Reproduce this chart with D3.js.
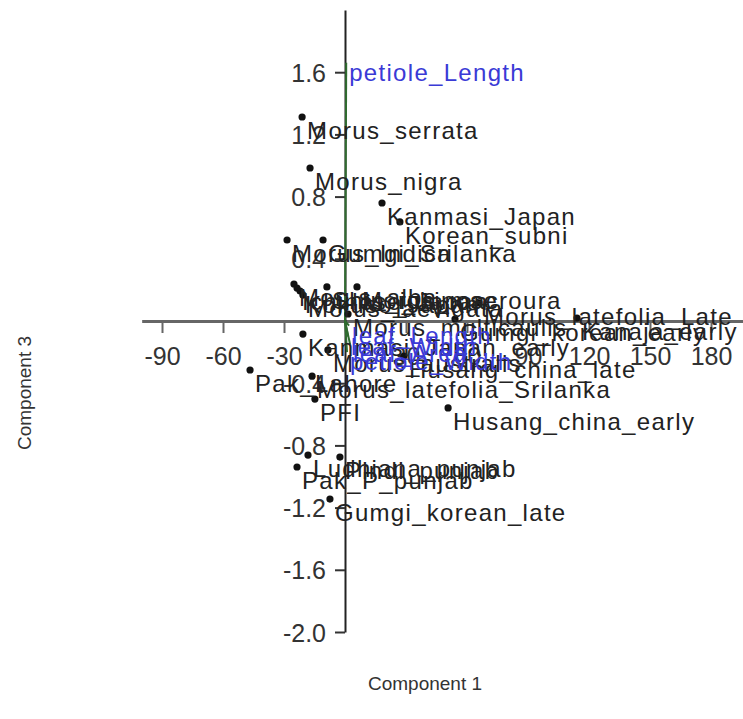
<!DOCTYPE html>
<html>
<head>
<meta charset="utf-8">
<script src="https://cdn.jsdelivr.net/npm/d3@7"></script>
<style>
  html, body { margin: 0; padding: 0; background: #fff; }
  svg { display: block; }
</style>
</head>
<body>
<svg id="chart" width="743" height="719"></svg>
<script>
// ---- Data ----
const sampleNames = [
  "Morus_serrata", "Morus_nigra", "Kanmasi_Japan", "Korean_subni",
  "Morus_Indica", "Gumgi_Srilanka", "Morus_alba", "Ichinose_Japan",
  "Kokuso_Japan", "Morus_laevigata", "Shin_ichinose", "Morus_macroura",
  "Morus_latefolia_Late", "Gumgi_korean_early", "Kanaja_early", "Morus_multicaulis",
  "Kanmasi_Japan_early", "Morus_australis", "Husang_china_late", "Morus_latefolia_Srilanka",
  "Pak_Lahore", "PFI", "Husang_china_early", "Ludhiana_punjab",
  "Pak_P_punjab", "Pindi_punjab", "Gumgi_korean_late"
];
const component1 = [
  -21.1, -17.2, 18.2, 27.0,
  -28.5, -10.8, -25.1, -23.6,
  -22.1, -20.7, -8.9, 5.9,
  65.9, 54.1, 114.1, 1.5,
  -20.7, -8.4, 29.0, -16.2,
  -46.7, -14.8, 50.7, -18.2,
  -23.6, -2.5, -7.4
];
const component3 = [
  1.312, 0.984, 0.759, 0.637,
  0.521, 0.521, 0.238, 0.212,
  0.193, 0.167, 0.219, 0.219,
  0.116, 0.013, 0.019, 0.045,
  -0.084, -0.186, -0.225, -0.355,
  -0.315, -0.502, -0.559, -0.862,
  -0.939, -0.875, -1.145
];

const variableNames = ["petiole_Length", "leaf_Length", "leaf_Width", "leaf_Area", "petiole_Width"];
const loading1 = [0.6, 2.0, 1.5, 2.5, 1.0];
const loading3 = [1.66, -0.03, -0.10, -0.15, -0.20];

const xTicks = [-90, -60, -30, 30, 60, 90, 120, 150, 180];
const yTicks = [-2.0, -1.6, -1.2, -0.8, -0.4, 0.4, 0.8, 1.2, 1.6];

const xTitle = "Component 1";
const yTitle = "Component 3";

// ---- Drawing ----
const svg = d3.select("#chart");
const x = d3.scaleLinear().domain([-100, 200]).range([141.67, 751.67]);
const y = d3.scaleLinear().domain([-2, 2]).range([632, 10]);

const fontFam = "'Liberation Sans', Arial, Helvetica, sans-serif";

// X axis through origin
const gx = svg.append("g")
  .attr("transform", `translate(0,${y(0)})`)
  .call(d3.axisBottom(x).tickValues(xTicks).tickSize(12).tickSizeOuter(0)
        .tickFormat(d => String(d)));
gx.select(".domain").attr("stroke", "#666").attr("stroke-width", 3);
gx.selectAll(".tick line").attr("stroke", "#666").attr("stroke-width", 2);
gx.selectAll(".tick text")
  .attr("y", 44).attr("dy", null)
  .attr("fill", "#333")
  .style("font-family", fontFam).style("font-size", "25px");

// Y axis through origin
const gy = svg.append("g")
  .attr("transform", `translate(${x(0)},0)`)
  .call(d3.axisLeft(y).tickValues(yTicks).tickSize(10).tickSizeOuter(0)
        .tickFormat(d => d.toFixed(1)));
gy.select(".domain").attr("stroke", "#222").attr("stroke-width", 2);
gy.selectAll(".tick line").attr("stroke", "#333").attr("stroke-width", 2);
gy.selectAll(".tick text")
  .attr("x", -19).attr("dy", "0.36em")
  .attr("fill", "#333")
  .style("font-family", fontFam).style("font-size", "25px");

// Loading vectors (green lines)
const vars = variableNames.map((n, i) => ({ name: n, a: loading1[i], b: loading3[i] }));
svg.append("g").selectAll("line").data(vars).join("line")
  .attr("x1", x(0)).attr("y1", y(0))
  .attr("x2", d => x(d.a)).attr("y2", d => y(d.b))
  .attr("stroke", "#2f6b2f").attr("stroke-width", 2);

// Sample points and labels
const samples = sampleNames.map((n, i) => ({ name: n, c1: component1[i], c3: component3[i] }));
const gs = svg.append("g");
gs.selectAll("circle").data(samples).join("circle")
  .attr("cx", d => x(d.c1)).attr("cy", d => y(d.c3))
  .attr("r", 3.6).attr("fill", "#111");
gs.selectAll("text").data(samples).join("text")
  .attr("x", d => x(d.c1) + 5).attr("y", d => y(d.c3) + 22)
  .attr("fill", "#222")
  .style("font-family", fontFam).style("font-size", "24px")
  .style("letter-spacing", "1.3px")
  .text(d => d.name);

// Variable labels (blue)
svg.append("g").selectAll("text").data(vars).join("text")
  .attr("x", d => x(d.a) + 3).attr("y", d => y(d.b) + 18)
  .attr("fill", "#3a3ad6")
  .style("font-family", fontFam).style("font-size", "24px")
  .style("letter-spacing", "1.3px")
  .text(d => d.name);

// Axis titles
svg.append("text")
  .attr("x", 425).attr("y", 690)
  .attr("text-anchor", "middle").attr("fill", "#333")
  .style("font-family", fontFam).style("font-size", "19px")
  .text(xTitle);
svg.append("text")
  .attr("transform", "translate(31,393) rotate(-90)")
  .attr("text-anchor", "middle").attr("fill", "#333")
  .style("font-family", fontFam).style("font-size", "19px")
  .text(yTitle);
</script>
</body>
</html>
